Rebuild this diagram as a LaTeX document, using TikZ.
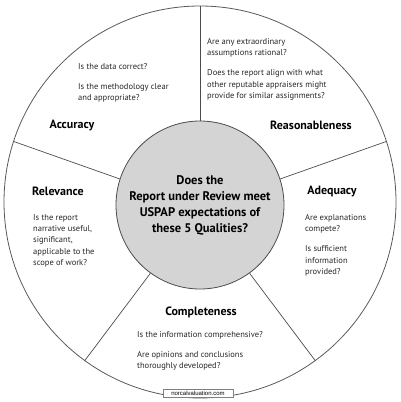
\documentclass[tikz,border=0pt]{standalone}
\usepackage{fontspec}
\setmainfont{PT Sans}
\newfontfamily\webfont{Liberation Sans}
\usetikzlibrary{positioning}

\begin{document}
\begin{tikzpicture}[x=1pt, y=-1pt,
        hub/.style={draw=black!70, circle, fill=black!17, minimum size=168pt, inner sep=0pt, align=center, font=\fontsize{12.5}{16}\selectfont\bfseries, line width=0.8pt},
        rim/.style={draw=black!65, circle, minimum size=392pt, inner sep=0pt, line width=0.8pt},
        divider/.style={draw=black!70, line width=0.7pt},
        quality/.style={font=\fontsize{12}{14}\selectfont\bfseries, inner sep=0pt},
        question/.style={anchor=north west, align=left, font=\fontsize{8.5}{11.3}\selectfont, inner sep=0pt, text=black!85},
        credit/.style={draw=black!50, fill=white, font=\webfont\fontsize{6}{7}\selectfont, minimum width=70pt, minimum height=8pt, inner sep=1pt}
    ]
    \useasboundingbox (0,0) rectangle (400,402);

    % --- Wheel ---
    \node[rim] (rim) at (200,202) {};
    \node[hub] (hub) at (200,205) {Does the\\Report under Review meet\\USPAP expectations of\\these 5 Qualities?};
    \foreach \a in {90,18,-54,-126,162}
        \draw[divider] (hub.\a) -- (rim.\a);

    % --- The five qualities ---
    \node[quality] (accuracy) at (72,125) {Accuracy};
    \node[quality] (reason) at (311,125) {Reasonableness};
    \node[quality] (adequacy) at (332,191) {Adequacy};
    \node[quality] (relevance) at (58,191) {Relevance};
    \node[quality] (complete) at (201,312) {Completeness};

    % --- Questions ---
    \node[question] (accuracy-q) at (78,63) {Is the data correct?\\[9pt]Is the methodology clear\\and appropriate?};
    \node[question] (reason-q) at (207,38) {Are any extraordinary\\assumptions rational?\\[9pt]Does the report align with what\\other reputable appraisers might\\provide for similar assignments?};
    \node[question] (adequacy-q) at (305,214) {Are explanations\\compete?\\[9pt]Is sufficient\\information\\provided?};
    \node[question] (relevance-q) at (33,214) {Is the report\\narrative useful,\\significant,\\applicable to the\\scope of work?};
    \node[question] (complete-q) at (137,331) {Is the information comprehensive?\\[9pt]Are opinions and conclusions\\thoroughly developed?};

    % --- Source ---
    \node[credit] (web) at (198,393) {norcalvaluation.com};
\end{tikzpicture}
\end{document}
